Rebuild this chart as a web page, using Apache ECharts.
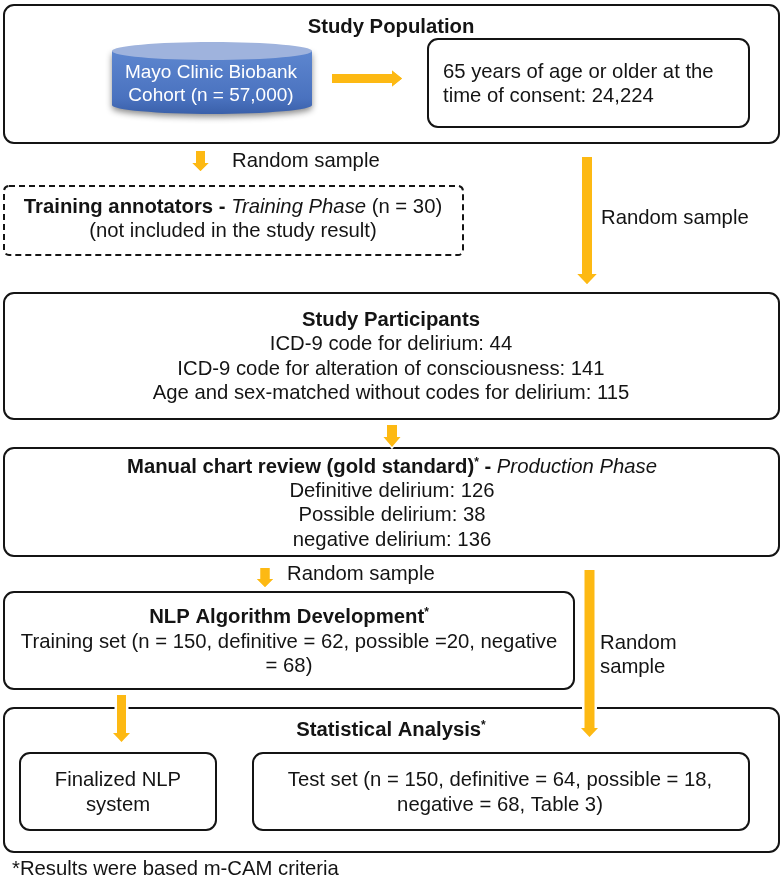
<!DOCTYPE html>
<html>
<head>
<meta charset="utf-8">
<style>html,body{margin:0;padding:0;background:#fff}#c{width:780px;height:881px}</style>
<script src="https://cdn.jsdelivr.net/npm/echarts@6/dist/echarts.min.js"></script>
</head>
<body>
<div id="c"></div>
<script>
// Diagram content
const boxCorners = [
  [4, 5, 779, 143], [428, 39, 749, 127],
  [4, 293, 779, 419], [4, 448, 779, 556],
  [4, 592, 574, 689], [4, 708, 779, 852],
  [20, 753, 216, 830], [253, 753, 749, 830]
];
const dashedBoxCorners = [[4, 186, 463, 255]];
const cylinderCorners = [[112, 42, 312, 114]];
// tail x, tail y, tip x, tip y, half shaft, half head, head length
const arrowList = [
  [332, 78.5, 402, 78.5, 4.5, 8, 10],
  [200.5, 151, 200.5, 171, 4.5, 8, 8],
  [587, 157, 587, 284, 5, 9.5, 10],
  [392, 425, 392, 447, 5, 8.5, 10],
  [265, 568, 265, 587, 4.5, 8, 8],
  [589.5, 570, 589.5, 737, 5, 8.5, 9],
  [121.5, 695, 121.5, 742, 4.5, 8.5, 9]
];
const centerTexts = [
  [391, 27, '{b|Study Population}'],
  [211, 73, '{w|Mayo Clinic Biobank}'],
  [211, 96, '{w|Cohort (n = 57,000)}'],
  [233, 207, '{b|Training annotators - }{i|Training Phase}{n| (n = 30)}'],
  [233, 231, '{n|(not included in the study result)}'],
  [391, 320, '{b|Study Participants}'],
  [391, 344, '{n|ICD-9 code for delirium: 44}'],
  [391, 369, '{n|ICD-9 code for alteration of consciousness: 141}'],
  [391, 393, '{n|Age and sex-matched without codes for delirium: 115}'],
  [392, 467, '{b|Manual chart review (gold standard)}{s|*}{b| - }{i|Production Phase}'],
  [392, 491, '{n|Definitive delirium: 126}'],
  [392, 515, '{n|Possible delirium: 38}'],
  [392, 540, '{n|negative delirium: 136}'],
  [289, 617, '{b|NLP Algorithm Development}{s|*}'],
  [289, 642, '{n|Training set (n = 150, definitive = 62, possible =20, negative}'],
  [289, 666, '{n|= 68)}'],
  [391, 730, '{b|Statistical Analysis}{s|*}'],
  [118, 780, '{n|Finalized NLP}'],
  [118, 805, '{n|system}'],
  [500, 780, '{n|Test set (n = 150, definitive = 64, possible = 18,}'],
  [500, 805, '{n|negative = 68, Table 3)}']
];
const leftTexts = [
  [443, 72, '{n|65 years of age or older at the}'],
  [443, 96, '{n|time of consent: 24,224}'],
  [232, 161, '{n|Random sample}'],
  [601, 218, '{n|Random sample}'],
  [287, 574, '{n|Random sample}'],
  [600, 643, '{n|Random}'],
  [600, 667, '{n|sample}'],
  [12, 869, '{n|*Results were based m-CAM criteria}']
];

const FONT = '"Liberation Sans", Arial, sans-serif';
const FS = 20.3;
const INK = '#141414';
const ORANGE = '#FDB913';
const rich = {
  n: {fontFamily: FONT, fontSize: FS, fill: INK},
  b: {fontFamily: FONT, fontSize: FS, fontWeight: 'bold', fill: INK},
  i: {fontFamily: FONT, fontSize: FS, fontStyle: 'italic', fill: INK},
  s: {fontFamily: FONT, fontSize: 12, fontWeight: 'bold', fill: INK, verticalAlign: 'top'},
  w: {fontFamily: FONT, fontSize: 19, fill: '#ffffff'}
};

function boxRender(dashed) {
  return function (params, api) {
    const a = api.coord([api.value(0), api.value(1)]);
    const b = api.coord([api.value(2), api.value(3)]);
    return {
      type: 'rect',
      shape: {x: a[0], y: a[1], width: b[0] - a[0], height: b[1] - a[1], r: dashed ? 5 : 10},
      style: {fill: 'none', stroke: INK, lineWidth: 2, lineDash: dashed ? [6, 4] : null}
    };
  };
}
function arrowRender(params, api) {
  const t = api.coord([api.value(0), api.value(1)]);
  const p = api.coord([api.value(2), api.value(3)]);
  const s = api.value(4), h = api.value(5), l = api.value(6);
  const horiz = Math.abs(p[0] - t[0]) > Math.abs(p[1] - t[1]);
  const pts = horiz
    ? [[t[0], t[1]-s],[p[0]-l, t[1]-s],[p[0]-l, t[1]-h],[p[0], t[1]],[p[0]-l, t[1]+h],[p[0]-l, t[1]+s],[t[0], t[1]+s]]
    : [[t[0]-s, t[1]],[t[0]-s, p[1]-l],[t[0]-h, p[1]-l],[t[0], p[1]],[t[0]+h, p[1]-l],[t[0]+s, p[1]-l],[t[0]+s, t[1]]];
  return {
    type: 'polygon',
    shape: {points: pts},
    style: {fill: ORANGE, stroke: '#ffffff', lineWidth: params.dataIndex >= 5 ? 5 : (params.dataIndex === 3 ? 3 : 0)},
    z2: 5
  };
}
function arrowInnerRender(params, api) {
  const el = arrowRender(params, api);
  el.style = {fill: ORANGE};
  el.z2 = 6;
  return el;
}
function cylinderRender(params, api) {
  const a = api.coord([api.value(0), api.value(1)]);
  const b = api.coord([api.value(2), api.value(3)]);
  const w = b[0] - a[0], cx = (a[0] + b[0]) / 2, ry = 9;
  const top = a[1] + ry, bot = b[1] - ry;
  const body = 'M' + a[0] + ' ' + top + 'L' + a[0] + ' ' + bot +
    'A' + w/2 + ' ' + ry + ' 0 0 0 ' + b[0] + ' ' + bot +
    'L' + b[0] + ' ' + top + 'Z';
  return {
    type: 'group',
    children: [
      {type: 'path', shape: {pathData: body},
       style: {fill: new echarts.graphic.LinearGradient(0, 0, 0, 1, [
         {offset: 0, color: '#5d86cf'}, {offset: 0.75, color: '#4a72bf'}, {offset: 1, color: '#3a60aa'}]),
         shadowBlur: 6, shadowColor: 'rgba(0,0,0,0.45)', shadowOffsetY: 3}},
      {type: 'ellipse', shape: {cx: cx, cy: top, rx: w/2, ry: ry}, style: {fill: '#9fb3dd'}}
    ]
  };
}
function textRender(align) {
  return function (params, api) {
    const a = api.coord([api.value(0), api.value(1)]);
    return {
      type: 'text',
      z2: 10,
      style: {text: api.value(2), x: a[0], y: a[1], align: align, verticalAlign: 'middle', rich: rich,
        font: FS + 'px ' + FONT}
    };
  };
}
const common = {coordinateSystem: 'cartesian2d', silent: true, animation: false, clip: false};
const chart = echarts.init(document.getElementById('c'), null, {renderer: 'canvas'});
chart.setOption({
  animation: false,
  backgroundColor: '#ffffff',
  grid: {left: 0, top: 0, right: 0, bottom: 0},
  xAxis: {type: 'value', min: 0, max: 780, show: false},
  yAxis: {type: 'value', min: 0, max: 881, inverse: true, show: false},
  series: [
    Object.assign({type: 'custom', name: 'Boxes', renderItem: boxRender(false), data: boxCorners, z: 1}, common),
    Object.assign({type: 'custom', name: 'Dashed box', renderItem: boxRender(true), data: dashedBoxCorners, z: 1}, common),
    Object.assign({type: 'custom', name: 'Cohort', renderItem: cylinderRender, data: cylinderCorners, z: 2}, common),
    Object.assign({type: 'custom', name: 'Arrow halo', renderItem: arrowRender, data: arrowList, z: 3}, common),
    Object.assign({type: 'custom', name: 'Arrows', renderItem: arrowInnerRender, data: arrowList, z: 4}, common),
    Object.assign({type: 'custom', name: 'Centered text', renderItem: textRender('center'), data: centerTexts,
      encode: {x: 0, y: 1}, dimensions: ['x', 'y', {name: 't', type: 'ordinal'}], z: 5}, common),
    Object.assign({type: 'custom', name: 'Left text', renderItem: textRender('left'), data: leftTexts,
      encode: {x: 0, y: 1}, dimensions: ['x', 'y', {name: 't', type: 'ordinal'}], z: 5}, common)
  ]
});
</script>
</body>
</html>
